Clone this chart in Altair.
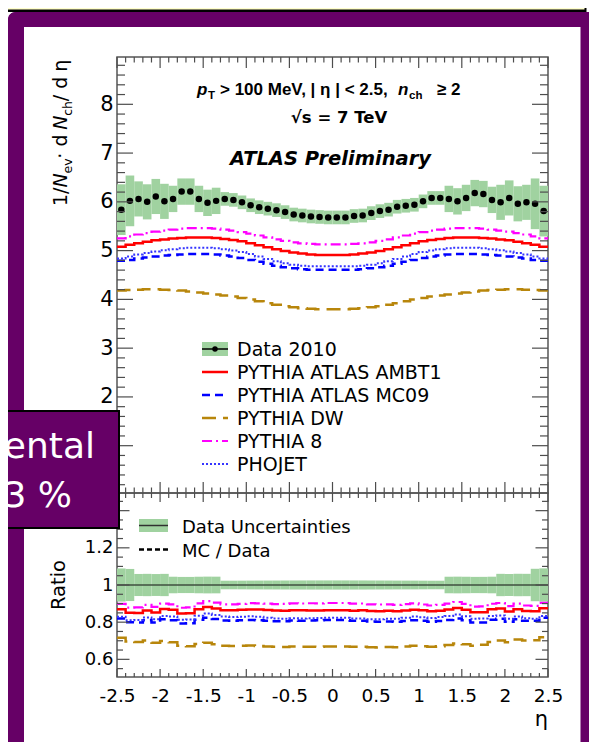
import altair as alt
import pandas as pd

# ---------------- data ----------------
eta_edges = [round(-2.5 + 0.1 * i, 1) for i in range(51)]
eta_centers = [round(-2.45 + 0.1 * i, 2) for i in range(50)]

data_2010 = [5.84, 6.02, 6.06, 6.00, 6.11, 6.01, 6.06, 6.21, 6.21, 6.06,
             5.98, 6.02, 6.06, 6.04, 5.99, 5.93, 5.89, 5.86, 5.83, 5.79,
             5.74, 5.72, 5.70, 5.69, 5.68, 5.68, 5.68, 5.71, 5.72, 5.77,
             5.81, 5.84, 5.90, 5.92, 5.94, 6.01, 6.08, 6.08, 6.06, 6.01,
             6.08, 6.18, 6.16, 6.04, 5.99, 6.08, 5.96, 5.99, 5.96, 5.81]
data_err = [0.52, 0.52, 0.36, 0.36, 0.36, 0.36, 0.27, 0.27, 0.27, 0.27,
            0.27, 0.27, 0.14, 0.14, 0.14, 0.14, 0.14, 0.14, 0.14, 0.14,
            0.14, 0.14, 0.14, 0.14, 0.14, 0.14, 0.14, 0.14, 0.14, 0.14,
            0.14, 0.14, 0.14, 0.14, 0.14, 0.14, 0.14, 0.14, 0.27, 0.27,
            0.27, 0.27, 0.27, 0.27, 0.36, 0.36, 0.36, 0.36, 0.52, 0.52]

ambt1 = [5.08, 5.12, 5.15, 5.18, 5.21, 5.23, 5.25, 5.26, 5.27, 5.27,
         5.27, 5.26, 5.24, 5.22, 5.19, 5.15, 5.11, 5.07, 5.03, 4.99,
         4.96, 4.94, 4.92, 4.91, 4.91, 4.91, 4.91, 4.92, 4.94, 4.96,
         4.99, 5.03, 5.07, 5.11, 5.15, 5.19, 5.22, 5.24, 5.26, 5.27,
         5.27, 5.27, 5.26, 5.25, 5.23, 5.21, 5.18, 5.15, 5.12, 5.08]
mc09 = [4.79, 4.81, 4.84, 4.86, 4.88, 4.90, 4.91, 4.92, 4.93, 4.93,
        4.93, 4.92, 4.90, 4.88, 4.85, 4.81, 4.77, 4.73, 4.69, 4.66,
        4.64, 4.62, 4.61, 4.61, 4.61, 4.61, 4.61, 4.61, 4.62, 4.64,
        4.66, 4.69, 4.73, 4.77, 4.81, 4.85, 4.88, 4.90, 4.92, 4.93,
        4.93, 4.93, 4.92, 4.91, 4.90, 4.88, 4.86, 4.84, 4.81, 4.79]
dw = [4.18, 4.19, 4.20, 4.21, 4.21, 4.20, 4.19, 4.18, 4.16, 4.14,
      4.12, 4.10, 4.08, 4.06, 4.03, 4.00, 3.96, 3.92, 3.89, 3.86,
      3.84, 3.82, 3.81, 3.80, 3.80, 3.80, 3.80, 3.81, 3.82, 3.84,
      3.86, 3.89, 3.92, 3.96, 4.00, 4.03, 4.06, 4.08, 4.10, 4.12,
      4.14, 4.16, 4.18, 4.19, 4.20, 4.21, 4.21, 4.20, 4.19, 4.18]
pythia8 = [5.25, 5.29, 5.33, 5.36, 5.39, 5.41, 5.43, 5.45, 5.46, 5.46,
           5.46, 5.45, 5.43, 5.41, 5.38, 5.35, 5.31, 5.27, 5.23, 5.20,
           5.17, 5.15, 5.14, 5.13, 5.13, 5.13, 5.13, 5.14, 5.15, 5.17,
           5.20, 5.23, 5.27, 5.31, 5.35, 5.38, 5.41, 5.43, 5.45, 5.46,
           5.46, 5.46, 5.45, 5.43, 5.41, 5.39, 5.36, 5.33, 5.29, 5.25]
phojet = [4.84, 4.88, 4.92, 4.95, 4.98, 5.01, 5.03, 5.05, 5.06, 5.06,
          5.06, 5.05, 5.03, 5.00, 4.97, 4.93, 4.88, 4.83, 4.78, 4.74,
          4.71, 4.69, 4.68, 4.68, 4.68, 4.68, 4.68, 4.68, 4.69, 4.71,
          4.74, 4.78, 4.83, 4.88, 4.93, 4.97, 5.00, 5.03, 5.05, 5.06,
          5.06, 5.06, 5.05, 5.03, 5.01, 4.98, 4.95, 4.92, 4.88, 4.84]

x_tick_labels = [-2.5, -2, -1.5, -1, -0.5, 0, 0.5, 1, 1.5, 2, 2.5]
up_y_labels = [2, 3, 4, 5, 6, 7, 8]
ratio_y_labels = [0.6, 0.8, 1, 1.2]

# ---------------- style / layout ----------------
FONT = "DejaVu Sans"
HFONT = "Liberation Sans"
GREEN = "#a0d2a0"
TC = "#4d4d4d"
PURPLE = "#660066"
W, H1, H2 = 431, 436, 184
OX, OY, OY2 = 117, 57, 493   # page coords of panel origins
SVG_W, SVG_H = 581, 734      # fits the page body without shrinking/scrolling

series = [
    ("PYTHIA DW", dw, "#b8860b", [14, 7], 2.5),
    ("PYTHIA ATLAS MC09", mc09, "#0000ff", [8, 5], 2.5),
    ("PHOJET", phojet, "#3535ff", [2, 2], 2.0),
    ("PYTHIA 8", pythia8, "#ff00ff", [10, 4, 2, 4], 2.2),
    ("PYTHIA ATLAS AMBT1", ambt1, "#ff0000", None, 2.5),
]
style = {s[0]: s for s in series}

ONE = pd.DataFrame({"k": [0]})

XS_U = alt.Scale(domain=[-2.5, 2.5], nice=False, zero=False)
XS_L = alt.Scale(domain=[-2.5, 2.5], nice=False, zero=False)
YU = alt.Scale(domain=[0.03, 8.97], nice=False, zero=False)
YR = alt.Scale(domain=[0.505, 1.495], nice=False, zero=False)

YAX_U = alt.Axis(values=up_y_labels, ticks=False, tickSize=0, domain=False, grid=False,
                 title=None, labelFont=FONT, labelFontSize=21, labelColor="black",
                 labelPadding=4)
YAX_L = alt.Axis(values=ratio_y_labels, ticks=False, tickSize=0, domain=False, grid=False,
                 title=None, labelFont=FONT, labelFontSize=18, labelColor="black",
                 labelPadding=4, labelExpr="datum.value + ''")
XAX_L = alt.Axis(values=x_tick_labels, ticks=False, tickSize=0, domain=False, grid=False,
                 title=None, labelFont=FONT, labelFontSize=18.5, labelColor="black",
                 labelPadding=9, labelFlush=False, labelOverlap=False,
                 labelExpr="datum.value + ''")


def xq(field, upper):
    if upper:
        return alt.X(field, type="quantitative", scale=XS_U, axis=None)
    return alt.X(field, type="quantitative", scale=XS_L, axis=XAX_L)


def yq(field, upper):
    if upper:
        return alt.Y(field, type="quantitative", scale=YU, axis=YAX_U)
    return alt.Y(field, type="quantitative", scale=YR, axis=YAX_L)


def rect(x1, y1, x2, y2, color, **kw):
    return alt.Chart(ONE).mark_rect(color=color, **kw).encode(
        x=alt.value(x1), x2=alt.value(x2), y=alt.value(y1), y2=alt.value(y2))


def text(t, x, y, size, weight="normal", fstyle="normal", align="left", angle=0,
         color="black", font=FONT):
    return alt.Chart(ONE).mark_text(
        text=t, fontSize=size, fontWeight=weight, fontStyle=fstyle, align=align,
        baseline="alphabetic", angle=angle, color=color, font=font).encode(
        x=alt.value(x), y=alt.value(y))


def hline(x1, x2, y, color, width, dash=None):
    kw = dict(color=color, strokeWidth=width)
    if dash:
        kw["strokeDash"] = dash
    return alt.Chart(ONE).mark_rule(**kw).encode(
        x=alt.value(x1), x2=alt.value(x2), y=alt.value(y))


W_REG = {"1": .636, "/": .337, " ": .30, "·": .30, "d": .62, "N": .74, "e": .60,
         "v": .58, "c": .54, "h": .62, "η": .62}


def twidth(t, size):
    return sum(W_REG.get(ch, .6) for ch in t) * size


# ---------------- tables ----------------
bins = pd.DataFrame({"lo": eta_edges[:-1], "hi": eta_edges[1:], "c": eta_centers,
                     "data": data_2010, "err": data_err})
bins["blo"] = bins["data"] - bins["err"]
bins["bhi"] = bins["data"] + bins["err"]
bins["rlo"] = 1 - bins["err"] / bins["data"]
bins["rhi"] = 1 + bins["err"] / bins["data"]

x_major = [v for v in eta_edges if abs(v * 2 - round(v * 2)) < 1e-6]
x_minor = [v for v in eta_edges if v not in x_major]
u_major = [1, 2, 3, 4, 5, 6, 7, 8]
u_minor = [round(0.2 * i, 1) for i in range(1, 45) if i % 5 != 0]
r_major = [0.6, 0.8, 1.0, 1.2, 1.4]
r_minor = [round(0.55 + 0.05 * i, 2) for i in range(19)]
r_minor = [v for v in r_minor if all(abs(v - m) > 1e-6 for m in r_major)]


def xticks(vals, y1, y2, upper):
    return alt.Chart(pd.DataFrame({"v": vals})).mark_rule(color=TC, strokeWidth=1.2).encode(
        x=xq("v", upper), y=alt.value(y1), y2=alt.value(y2))


def yticks(vals, x1, x2, upper):
    return alt.Chart(pd.DataFrame({"v": vals})).mark_rule(color=TC, strokeWidth=1.2).encode(
        y=yq("v", upper), x=alt.value(x1), x2=alt.value(x2))


# ---------------- upper panel ----------------
up = []
up.append(alt.Chart(bins).mark_rect(color=GREEN).encode(
    x=xq("lo", True), x2="hi:Q", y=yq("blo", True), y2="bhi:Q"))
for name, vals, col, dash, w in series:
    df = pd.DataFrame({"x": eta_edges, "y": vals + [vals[-1]]})
    kw = dict(interpolate="step-after", color=col, strokeWidth=w)
    if dash:
        kw["strokeDash"] = dash
    up.append(alt.Chart(df).mark_line(**kw).encode(x=xq("x", True), y=yq("y", True)))
up.append(alt.Chart(bins).mark_circle(size=42, color="black", opacity=1).encode(
    x=xq("c", True), y=yq("data", True)))
# ticks
up += [xticks(x_major, 0, 11, True), xticks(x_minor, 0, 5.5, True),
       xticks(x_major, H1, H1 - 11, True), xticks(x_minor, H1, H1 - 5.5, True),
       yticks(u_major, 0, 16, True), yticks(u_minor, 0, 8, True),
       yticks(u_major, W, W - 16, True), yticks(u_minor, W, W - 8, True)]

# header text (pieces at page x positions)
hdr = [("p", 197, 95, 17, "italic"), ("T", 208, 99, 11.5, "normal"),
       ("> 100 MeV,  | η |  < 2.5,", 220, 95, 17, "normal"),
       ("n", 398, 95, 17, "italic"), ("ch", 409, 99, 11.5, "normal"),
       ("≥ 2", 437, 95, 17, "normal")]
for t, x, y, s, st in hdr:
    up.append(text(t, x - OX, y - OY, s, weight="bold", fstyle=st, font=HFONT))
up.append(text("√s = 7 TeV", 339 - OX, 123 - OY, 16.5, weight="bold", align="center"))
up.append(text("ATLAS Preliminary", 330.5 - OX, 165 - OY, 19.5, weight="bold",
               fstyle="italic", align="center"))

# y title (rotated rich text)
ytitle = [("1/", 19, "normal", 0), ("N", 19, "italic", 0), ("ev", 12.5, "normal", 5),
          (" · d", 19, "normal", 0), ("N", 19, "italic", 0), ("ch", 12.5, "normal", 5),
          (" / d", 19, "normal", 0), ("η", 19, "normal", 0)]
cy = 206
for t, s, st, dx in ytitle:
    up.append(text(t, 67 + dx - OX, cy - OY, s, fstyle=st, angle=270))
    cy -= twidth(t, s)

# legend (upper)
leg_names = ["Data 2010", "PYTHIA ATLAS AMBT1", "PYTHIA ATLAS MC09", "PYTHIA DW",
             "PYTHIA 8", "PHOJET"]
for i, name in enumerate(leg_names):
    base = 356 + 23 * i
    ly = base - 7 - OY
    if name == "Data 2010":
        up.append(rect(202 - OX, ly - 7, 228 - OX, ly + 7, GREEN))
        up.append(hline(202 - OX, 228 - OX, ly, "black", 1.5))
        up.append(alt.Chart(ONE).mark_circle(size=30, color="black", opacity=1).encode(
            x=alt.value(215 - OX), y=alt.value(ly)))
    else:
        _, _, col, dash, w = style[name]
        up.append(hline(202 - OX, 228 - OX, ly, col, w, dash))
    up.append(text(name, 237 - OX, base - OY, 19))

# slide decorations
up.append(rect(0 - OX, 0 - OY, 586.5 - OX, 12 - OY, "black"))
up.append(rect(0 - OX, 0 - OY, 584.5 - OX, 9.5 - OY, "#ffffcc"))
up.append(rect(8 - OX, 12 - OY, 597 - OX, 27 - OY, PURPLE,
               cornerRadiusTopLeft=9, cornerRadiusTopRight=9))
up.append(rect(8 - OX, 12 - OY, 24 - OX, 760 - OY, PURPLE, cornerRadiusTopLeft=9))
up.append(rect(580.5 - OX, 12 - OY, 597 - OX, 760 - OY, PURPLE, cornerRadiusTopRight=9))
up.append(rect(8 - OX, 747 - OY, 597 - OX, 760 - OY, PURPLE))

upper = alt.layer(*up).properties(width=W, height=H1)

# ---------------- ratio panel ----------------
lo = []
lo.append(alt.Chart(bins).mark_rect(color=GREEN).encode(
    x=xq("lo", False), x2="hi:Q", y=yq("rlo", False), y2="rhi:Q"))
lo.append(alt.Chart(pd.DataFrame({"a": [-2.5], "b": [2.5], "r": [1.0]})).mark_rule(
    color="#3f4f3f", strokeWidth=1.5).encode(x=xq("a", False), x2="b:Q", y=yq("r", False)))
for name, vals, col, dash, w in series:
    rr = [m / d for m, d in zip(vals, data_2010)]
    df = pd.DataFrame({"x": eta_edges, "y": rr + [rr[-1]]})
    kw = dict(interpolate="step-after", color=col, strokeWidth=w)
    if dash:
        kw["strokeDash"] = dash
    lo.append(alt.Chart(df).mark_line(**kw).encode(x=xq("x", False), y=yq("y", False)))
lo += [xticks(x_major, 0, 9, False), xticks(x_minor, 0, 5, False),
       xticks(x_major, H2, H2 - 8, False), xticks(x_minor, H2, H2 - 4, False),
       yticks(r_major, 0, 12.5, False), yticks(r_minor, 0, 6, False),
       yticks(r_major, W, W - 12.5, False), yticks(r_minor, W, W - 6, False)]
# legend (ratio)
lo.append(rect(139 - OX, 519 - OY2, 168 - OX, 532 - OY2, GREEN))
lo.append(hline(139 - OX, 168 - OX, 525.5 - OY2, "#303030", 1.5))
lo.append(text("Data Uncertainties", 182 - OX, 533 - OY2, 18))
lo.append(hline(139 - OX, 168 - OX, 549.5 - OY2, "black", 2.5, [5, 3]))
lo.append(text("MC / Data", 182 - OX, 557 - OY2, 18))
lo.append(text("Ratio", 65 - OX, 585 - OY2, 19.5, angle=270, align="center"))
lo.append(text("η", 548 - OX, 726 - OY2, 21, align="right"))
# overlapping slide box
lo.append(rect(0 - OX, 410 - OY2, 120 - OX, 529 - OY2, "black"))
lo.append(rect(0 - OX, 412 - OY2, 118 - OX, 527 - OY2, PURPLE))
lo.append(text("mental", 95 - OX, 458 - OY2, 36, color="white", align="right"))
lo.append(text("3 %", 72 - OX, 507 - OY2, 36, color="white", align="right"))

lower = alt.layer(*lo).properties(width=W, height=H2)

# autosize "none": panels sit at (left, top); the svg is SVG_W x SVG_H
chart = alt.vconcat(
    upper, lower, spacing=0, bounds="flush",
    padding={"left": OX - 8, "top": OY - 8, "right": SVG_W - (OX - 8) - W,
             "bottom": SVG_H - (OY - 8)},
    autosize=alt.AutoSizeParams(type="none"),
    background="white",
).resolve_scale(x="independent", y="independent").configure_view(
    stroke="#555555", strokeWidth=1.5)

chart.save("out.html", embed_options={"renderer": "svg", "actions": False})
